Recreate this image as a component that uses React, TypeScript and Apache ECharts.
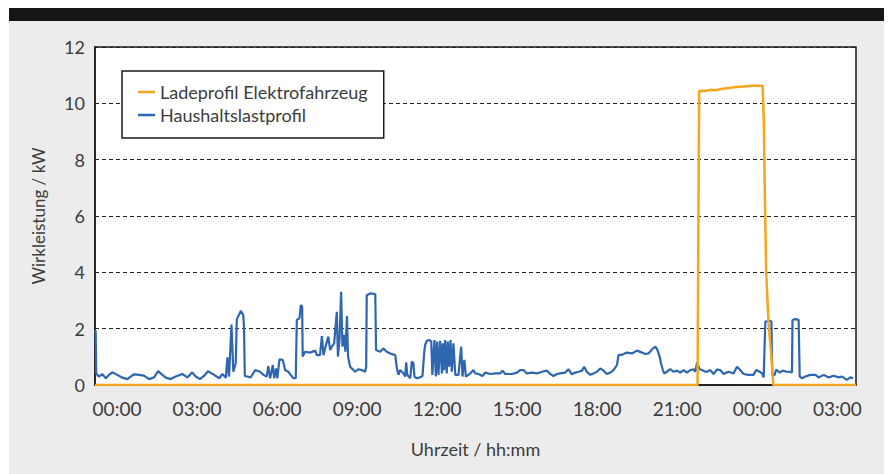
import React, { useEffect, useRef } from "react";
import * as echarts from "echarts";

const seriesNames = ["Ladeprofil Elektrofahrzeug", "Haushaltslastprofil"];
const xTickHours = [0, 3, 6, 9, 12, 15, 18, 21, 24, 27];
const yTicks = [0, 2, 4, 6, 8, 10, 12];

// [hour, kW]
const householdLoad: [number, number][] = [
  [-0.825, 1.95], [-0.8, 1.9], [-0.78, 0.41], [-0.68, 0.3], [-0.55, 0.38], [-0.42, 0.24], [-0.3, 0.36], [-0.18, 0.45],
  [0.01, 0.36], [0.2, 0.26], [0.39, 0.21], [0.51, 0.3], [0.64, 0.38], [0.83, 0.36], [1.01, 0.33], [1.2, 0.21],
  [1.39, 0.27], [1.54, 0.49], [1.7, 0.36], [1.83, 0.26], [2.01, 0.21], [2.2, 0.3], [2.45, 0.39], [2.64, 0.27],
  [2.82, 0.45], [2.95, 0.3], [3.11, 0.21], [3.26, 0.32], [3.41, 0.49], [3.64, 0.36], [3.83, 0.24], [3.95, 0.39],
  [4.08, 0.26], [4.14, 0.98], [4.2, 0.3], [4.29, 2.15], [4.36, 0.47], [4.45, 0.77], [4.49, 2.33], [4.64, 2.63],
  [4.73, 2.49], [4.76, 2.07], [4.79, 0.32], [5.01, 0.27], [5.18, 0.53], [5.36, 0.47], [5.49, 0.36], [5.61, 0.3],
  [5.67, 0.67], [5.74, 0.24], [5.84, 0.71], [5.89, 0.24], [5.96, 0.59], [6.01, 0.24], [6.09, 0.91], [6.21, 0.89],
  [6.26, 0.71], [6.3, 0.53], [6.42, 0.47], [6.51, 0.36], [6.61, 0.24], [6.7, 0.24], [6.74, 2.31], [6.84, 2.37],
  [6.89, 2.84], [6.94, 2.78], [6.96, 1.01], [7.05, 1.18], [7.24, 1.15], [7.43, 1.22], [7.49, 1.06], [7.61, 1.06],
  [7.68, 1.74], [7.74, 1.06], [7.8, 1.3], [7.92, 1.72], [7.99, 1.24], [8.05, 1.36], [8.14, 1.48], [8.18, 1.95],
  [8.24, 2.6], [8.28, 1.01], [8.34, 1.6], [8.4, 3.31], [8.45, 1.36], [8.51, 1.78], [8.56, 1.18], [8.62, 2.45],
  [8.66, 1.0], [8.74, 0.65], [8.8, 0.59], [8.93, 0.47], [9.05, 0.56], [9.18, 0.53], [9.3, 0.47], [9.34, 0.65],
  [9.36, 3.19], [9.49, 3.25], [9.68, 3.23], [9.71, 1.24], [9.86, 1.18], [9.99, 1.3], [10.11, 1.18], [10.24, 1.12],
  [10.43, 1.06], [10.49, 0.59], [10.55, 0.36], [10.61, 0.53], [10.74, 0.41], [10.8, 0.3], [10.84, 0.8], [10.88, 0.36],
  [10.99, 0.24], [11.05, 0.83], [11.11, 0.77], [11.15, 0.3], [11.24, 0.24], [11.36, 0.27], [11.45, 0.32], [11.52, 1.2],
  [11.55, 1.42], [11.61, 1.57], [11.7, 1.6], [11.78, 1.54], [11.82, 0.36], [11.9, 1.6], [11.95, 0.3], [12.0, 1.54],
  [12.05, 0.36], [12.11, 1.57], [12.18, 0.41], [12.21, 1.48], [12.26, 0.53], [12.3, 1.6], [12.36, 0.41], [12.4, 1.54],
  [12.45, 0.65], [12.5, 1.6], [12.55, 0.47], [12.61, 1.48], [12.68, 0.36], [12.8, 0.36], [12.9, 1.36], [12.95, 0.3],
  [13.02, 0.89], [13.08, 0.3], [13.17, 0.36], [13.24, 0.41], [13.36, 0.53], [13.43, 0.41], [13.55, 0.39], [13.7, 0.32],
  [13.8, 0.44], [13.99, 0.39], [14.18, 0.41], [14.36, 0.41], [14.45, 0.51], [14.55, 0.39], [14.8, 0.39], [14.99, 0.44],
  [15.11, 0.53], [15.24, 0.53], [15.36, 0.41], [15.55, 0.44], [15.74, 0.41], [15.93, 0.47], [16.11, 0.51], [16.24, 0.39],
  [16.36, 0.32], [16.49, 0.39], [16.61, 0.41], [16.8, 0.44], [16.92, 0.56], [17.05, 0.38], [17.18, 0.44], [17.3, 0.47],
  [17.43, 0.51], [17.51, 0.65], [17.61, 0.47], [17.74, 0.36], [17.86, 0.41], [17.99, 0.47], [18.11, 0.59], [18.24, 0.51],
  [18.36, 0.39], [18.49, 0.44], [18.61, 0.53], [18.74, 0.71], [18.8, 1.07], [18.93, 1.07], [19.11, 1.15], [19.3, 1.12],
  [19.49, 1.22], [19.68, 1.15], [19.8, 1.1], [19.92, 1.12], [20.09, 1.3], [20.18, 1.36], [20.26, 1.24], [20.34, 1.01],
  [20.39, 0.77], [20.46, 0.53], [20.51, 0.41], [20.61, 0.47], [20.74, 0.56], [20.86, 0.47], [20.99, 0.51], [21.11, 0.44],
  [21.24, 0.53], [21.36, 0.44], [21.49, 0.53], [21.61, 0.56], [21.68, 0.47], [21.74, 0.79], [21.84, 0.56], [21.93, 0.53],
  [22.05, 0.47], [22.11, 0.47], [22.24, 0.53], [22.36, 0.39], [22.49, 0.55], [22.61, 0.53], [22.74, 0.39], [22.92, 0.47],
  [23.11, 0.41], [23.24, 0.65], [23.36, 0.53], [23.49, 0.39], [23.67, 0.36], [23.86, 0.36], [23.96, 0.53], [24.09, 0.47],
  [24.18, 0.41], [24.24, 0.27], [24.3, 2.25], [24.46, 2.28], [24.53, 2.25], [24.56, 0.36], [24.65, 0.36], [24.71, 0.55],
  [24.84, 0.44], [24.96, 0.51], [25.09, 0.47], [25.24, 0.47], [25.3, 0.44], [25.32, 2.31], [25.42, 2.34], [25.55, 2.31],
  [25.59, 0.3], [25.68, 0.24], [25.8, 0.3], [25.99, 0.36], [26.18, 0.36], [26.3, 0.27], [26.49, 0.36], [26.68, 0.27],
  [26.86, 0.33], [27.05, 0.27], [27.18, 0.3], [27.36, 0.18], [27.49, 0.27], [27.59, 0.24],
];

// [hour, kW]
const evCharging: [number, number][] = [
  [-0.825, 0], [21.76, 0], [21.82, 10.45], [22.0, 10.44], [22.3, 10.48], [22.4, 10.46], [22.7, 10.52],
  [23.0, 10.55], [23.2, 10.58], [23.5, 10.6], [23.8, 10.62], [24.2, 10.62], [24.24, 9.5], [24.28, 7.0],
  [24.33, 4.1], [24.42, 2.2], [24.52, 1.1], [24.6, 0], [27.7, 0],
];

const FONT = "Lato, 'Open Sans', sans-serif";
const TEXT = "#3c3c3c";

export default function App() {
  const ref = useRef<HTMLDivElement>(null);
  useEffect(() => {
    if (!ref.current) return;
    const chart = echarts.init(ref.current, null, { renderer: "svg" });
    const pad = (n: number) => (n < 10 ? "0" + n : "" + n);
    chart.setOption({
      animation: false,
      textStyle: { fontFamily: FONT },
      grid: {
        left: 95,
        top: 47,
        right: 32,
        bottom: 89,
        show: true,
        backgroundColor: "#ffffff",
        borderColor: "#1a1a1a",
        borderWidth: 1.5,
      },
      legend: {
        data: seriesNames,
        orient: "vertical",
        left: 122,
        top: 71,
        backgroundColor: "#ffffff",
        borderColor: "#1a1a1a",
        borderWidth: 1.5,
        padding: [11, 16, 13, 16],
        itemGap: 3,
        itemWidth: 17,
        itemHeight: 2.5,
        icon: "rect",
        textStyle: { fontSize: 18, color: TEXT, fontFamily: FONT, lineHeight: 20 },
      },
      xAxis: {
        type: "value",
        min: -0.825,
        max: 27.7,
        name: "Uhrzeit / hh:mm",
        nameLocation: "middle",
        nameGap: 55,
        nameTextStyle: { fontSize: 18, color: TEXT, fontFamily: FONT },
        axisLine: { show: true, onZero: false, lineStyle: { color: "#1a1a1a", width: 1.5 } },
        axisTick: { show: false },
        splitLine: { show: false },
        axisLabel: {
          customValues: xTickHours,
          margin: 14,
          fontSize: 19,
          color: TEXT,
          fontFamily: FONT,
          formatter: (v: number) => pad(((Math.round(v) % 24) + 24) % 24) + ":00",
        },
      },
      yAxis: {
        type: "value",
        min: yTicks[0],
        max: yTicks[yTicks.length - 1],
        interval: 2,
        name: "Wirkleistung / kW",
        nameLocation: "middle",
        nameGap: 48,
        nameTextStyle: { fontSize: 17, color: TEXT, fontFamily: FONT },
        axisLine: { show: true, onZero: false, lineStyle: { color: "#1a1a1a", width: 1.5 } },
        axisTick: { show: false },
        splitLine: { show: true, lineStyle: { color: "#222", type: [4, 3], width: 1 } },
        axisLabel: { margin: 10, fontSize: 18, color: TEXT, fontFamily: FONT },
      },
      series: [
        {
          name: seriesNames[1],
          type: "line",
          data: householdLoad,
          showSymbol: false,
          symbol: "none",
          color: "#2e66b0",
          lineStyle: { color: "#2e66b0", width: 2.2 },
          z: 2,
        },
        {
          name: seriesNames[0],
          type: "line",
          data: evCharging,
          showSymbol: false,
          symbol: "none",
          color: "#f7a51c",
          lineStyle: { color: "#f7a51c", width: 2.5 },
          z: 3,
        },
      ],
    });
    return () => chart.dispose();
  }, []);
  return (
    <div style={{ position: "absolute", left: 0, top: 0, width: 888, height: 474, background: "#ffffff" }}>
      <div style={{ position: "absolute", left: 9, top: 8, width: 875, height: 13, background: "#161616" }} />
      <div style={{ position: "absolute", left: 9, top: 21, width: 875, height: 453, background: "#ececec" }} />
      <div ref={ref} style={{ position: "absolute", left: 0, top: 0, width: 888, height: 474 }} />
    </div>
  );
}
